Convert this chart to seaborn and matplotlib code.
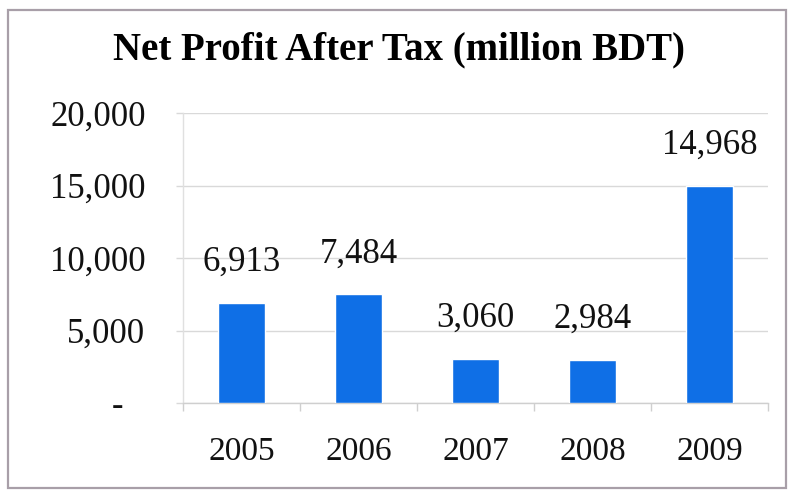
import matplotlib
matplotlib.use("Agg")
import matplotlib.pyplot as plt
from matplotlib.patches import Rectangle
from matplotlib.ticker import FixedLocator
import seaborn as sns
import pandas as pd

years = ["2005", "2006", "2007", "2008", "2009"]
profit = [6913, 7484, 3060, 2984, 14968]
profit_labels = ["6,913", "7,484", "3,060", "2,984", "14,968"]
y_ticks = [0, 5000, 10000, 15000, 20000]
y_tick_labels = ["-", "5,000", "10,000", "15,000", "20,000"]
title = "Net Profit After Tax (million BDT)"

sns.set_theme(style="white")
plt.rcParams["font.family"] = ["Liberation Serif", "DejaVu Serif"]

W, H = 790, 495
fig = plt.figure(figsize=(W / 100, H / 100), dpi=100)
ax = fig.add_axes([183 / W, 92 / H, (768 - 183) / W, (382 - 92) / H])

df = pd.DataFrame({"year": years, "profit": profit})
sns.barplot(data=df, x="year", y="profit", color="#0F6FE6", saturation=1,
            width=0.4, ax=ax, zorder=3)

ax.set_ylim(0, 20000)
ax.set_xlim(-0.5, len(years) - 0.5)
ax.set_yticks(y_ticks)
ax.set_yticklabels(y_tick_labels)
ax.set_xlabel("")
ax.set_ylabel("")

ax.yaxis.grid(True, color="#d9d9d9", linewidth=1.0, zorder=0)
ax.xaxis.grid(False)

for side in ["top", "right"]:
    ax.spines[side].set_visible(False)
ax.spines["left"].set_color("#e0e0e0")
ax.spines["left"].set_linewidth(1.0)
ax.spines["bottom"].set_color("#cfcfcf")
ax.spines["bottom"].set_linewidth(1.0)

ax.tick_params(axis="y", which="major", left=True, length=5, width=1,
               color="#d9d9d9", pad=22, labelsize=25, labelcolor="#111111")
ax.tick_params(axis="x", which="major", bottom=False, pad=18,
               labelsize=24, labelcolor="#111111")
ax.xaxis.set_minor_locator(FixedLocator([i - 0.5 for i in range(len(years) + 1)]))
ax.tick_params(axis="x", which="minor", bottom=True, length=6, width=1,
               color="#cfcfcf")

# accounting-style zero: the dash sits indented from the right edge
zero_label = ax.get_yticklabels()[0]
zero_label.set_x(zero_label.get_position()[0])
zero_label.set_transform(zero_label.get_transform() +
                         matplotlib.transforms.ScaledTranslation(-16 / 72, 0, fig.dpi_scale_trans))

for i, (v, lab) in enumerate(zip(profit, profit_labels)):
    ax.annotate(lab, xy=(i, v), xytext=(0, 29), textcoords="offset points",
                ha="center", va="center", fontsize=25, color="#111111")

fig.text(399 / W, 1 - 50 / H, title, ha="center", va="center",
         fontsize=28, fontweight="bold", color="#000000")

fig.patches.append(Rectangle((8 / W, 7 / H), (786 - 8) / W, (485 - 7) / H,
                             transform=fig.transFigure, fill=False,
                             edgecolor="#a89fa8", linewidth=1.6))

fig.savefig("out.png", dpi=100)
